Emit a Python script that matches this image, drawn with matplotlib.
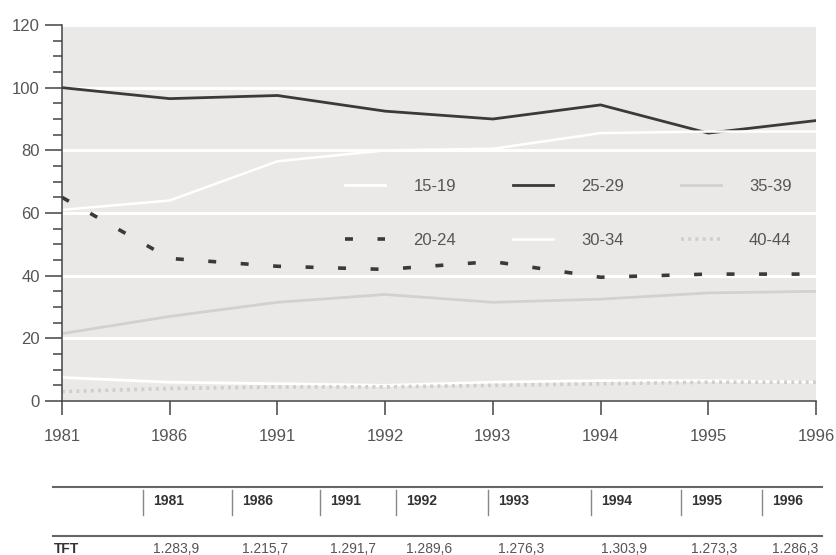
import numpy as np
import matplotlib
matplotlib.use("Agg")
import matplotlib.pyplot as plt
from matplotlib.lines import Line2D
from matplotlib.ticker import MultipleLocator

plt.rcParams['font.family'] = ['Liberation Sans', 'DejaVu Sans']

# ---------------------------------------------------------------------------
# Data
# ---------------------------------------------------------------------------
years = ['1981', '1986', '1991', '1992', '1993', '1994', '1995', '1996']

age_15_19 = [7.5, 6.0, 5.5, 5.0, 6.0, 6.5, 6.5, 6.0]
age_20_24 = [65.0, 45.5, 43.0, 42.0, 44.5, 39.5, 40.5, 40.5]
age_25_29 = [100.0, 96.5, 97.5, 92.5, 90.0, 94.5, 85.5, 89.5]
age_30_34 = [61.0, 64.0, 76.5, 80.0, 80.5, 85.5, 86.0, 86.0]
age_35_39 = [21.5, 27.0, 31.5, 34.0, 31.5, 32.5, 34.5, 35.0]
age_40_44 = [3.0, 4.0, 4.5, 4.5, 5.0, 5.5, 6.0, 6.0]

tft_values = ['1.283,9', '1.215,7', '1.291,7', '1.289,6',
              '1.276,3', '1.303,9', '1.273,3', '1.286,3']

W, H = 837, 555
BG = '#ebe9e8'
TXT = '#555555'
DARK = '#3a3a3a'

def fx(px):
    return px / W

def fy(py):
    return 1 - py / H

fig = plt.figure(figsize=(W / 100, H / 100), dpi=100)
ax = fig.add_axes([fx(62), fy(401), fx(816) - fx(62), fy(25) - fy(401)])
ax.set_facecolor(BG)

x = np.arange(len(years))

ax.plot(x, age_15_19, color='white', lw=2.0, label='15-19')
ax.plot(x, age_20_24, color=DARK, lw=2.6, ls=(0, (2.2, 6.8)), label='20-24')
ax.plot(x, age_25_29, color=DARK, lw=2.0, label='25-29')
ax.plot(x, age_30_34, color='white', lw=1.8, label='30-34')
ax.plot(x, age_35_39, color='#d3d1d0', lw=2.0, label='35-39')
ax.plot(x, age_40_44, color='#d0cecd', lw=2.6, ls=(0, (0.8, 1.2)), label='40-44')

ax.set_xlim(0, len(years) - 1)
ax.set_ylim(0, 120)
ax.set_xticks(x)
ax.set_xticklabels(years)
ax.yaxis.set_major_locator(MultipleLocator(20))
ax.yaxis.set_minor_locator(MultipleLocator(5))

ax.grid(axis='y', which='major', color='white', lw=2.2)
ax.set_axisbelow(True)

for s in ('top', 'right'):
    ax.spines[s].set_visible(False)
for s in ('left', 'bottom'):
    ax.spines[s].set_color('#444444')
    ax.spines[s].set_linewidth(1.1)

ax.tick_params(axis='y', which='major', length=12, width=1.1, color='#444444',
               labelsize=12, labelcolor=TXT, pad=4)
ax.tick_params(axis='y', which='minor', length=6.5, width=1.1, color='#444444')
ax.tick_params(axis='x', which='major', length=10, width=1.1, color='#444444',
               labelsize=12, labelcolor=TXT, pad=10)

leg = ax.legend(ncol=3, loc='upper left',
                bbox_to_anchor=((345 - 62) / 754, (401 - 179) / 376),
                frameon=False, fontsize=12, handlelength=2.4,
                handletextpad=1.7, columnspacing=3.4, labelspacing=2.35,
                borderpad=0, borderaxespad=0)
for t in leg.get_texts():
    t.set_color(TXT)

# ---------------------------------------------------------------------------
# Table below the chart
# ---------------------------------------------------------------------------
sep_px = [143, 232, 320, 396, 488, 591, 681, 762]

for ypx in (487, 536):
    fig.add_artist(Line2D([fx(53), fx(822)], [fy(ypx), fy(ypx)],
                          color='#666666', lw=1.5))

fig.text(fx(54), fy(549), 'TFT', fontsize=10, fontweight='bold',
         color='#333333', va='center', ha='left')

for sx, yr, val in zip(sep_px, years, tft_values):
    fig.add_artist(Line2D([fx(sx), fx(sx)], [fy(490), fy(515)],
                          color='#888888', lw=1.0))
    fig.text(fx(sx + 10), fy(501), yr, fontsize=10, fontweight='bold',
             color='#333333', va='center', ha='left')
    fig.text(fx(sx + 10), fy(549), val, fontsize=10,
             color=TXT, va='center', ha='left')

fig.savefig('out.png', dpi=100)
